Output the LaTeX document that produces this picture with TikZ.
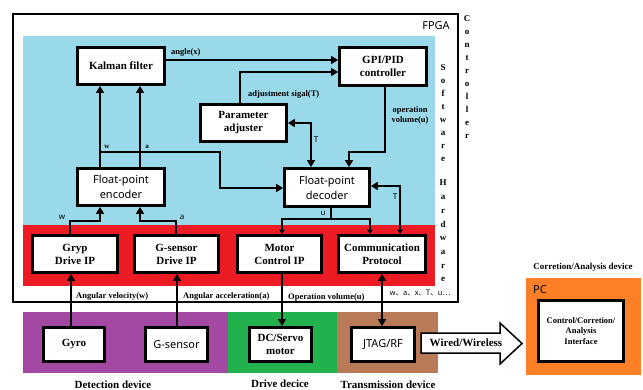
\documentclass[tikz,border=0pt]{standalone}
\usepackage{fontspec}
\setmainfont{Liberation Serif}
\newfontfamily\sansf{Noto Sans}
\newfontfamily\cjkf{Noto Sans CJK SC}
\usetikzlibrary{arrows.meta}
\definecolor{cblue}{HTML}{99D9EA}
\definecolor{cred}{HTML}{ED1C24}
\definecolor{cpurple}{HTML}{A349A4}
\definecolor{cgreen}{HTML}{22B14C}
\definecolor{cbrown}{HTML}{B97A57}
\definecolor{corange}{HTML}{FF7F27}
\begin{document}
\begin{tikzpicture}[x=1pt,y=-1pt,
  box/.style={draw,line width=2.8pt,fill=white,align=center,inner sep=0pt,font=\bfseries\fontsize{11}{13}\selectfont},
  sbox/.style={box,font=\sansf\fontsize{11}{15}\selectfont},
  conn/.style={line width=1.6pt,-{Triangle[length=7pt,width=8pt]}},
  bconn/.style={line width=1.6pt,{Triangle[length=7pt,width=8pt]}-{Triangle[length=7pt,width=8pt]}},
  sconn/.style={line width=1.6pt,{Triangle[length=4.5pt,width=5.5pt]}-{Triangle[length=4.5pt,width=5.5pt]}},
  lab/.style={font=\bfseries\fontsize{8.5}{10}\selectfont,inner sep=0pt,align=center},
  slab/.style={font=\sansf\fontsize{8}{9}\selectfont,inner sep=0pt},
  big/.style={font=\bfseries\fontsize{11}{13}\selectfont,inner sep=0pt},
  vert/.style={font=\bfseries\fontsize{9}{13}\selectfont,align=center,inner sep=0pt},
]
\useasboundingbox (0,0) rectangle (643,390);
\fill[white] (0,0) rectangle (643,390);
% regions
\fill[cblue] (23,36) rectangle (435,225);
\fill[cred] (23,225) rectangle (435,286);
\fill[cpurple] (23,312) rectangle (228,373);
\fill[cgreen] (228,312) rectangle (337,373);
\fill[cbrown] (337,312) rectangle (438,373);
\fill[corange] (526,278) rectangle (641,375);
\draw[line width=2.5pt] (13,14) rectangle (458,302);
% region texts
\node[font=\sansf\fontsize{11}{13}\selectfont,inner sep=0pt] (fpga) at (436,26) {FPGA};
\node[vert,font=\bfseries\fontsize{9}{13.1}\selectfont] (ctrl) at (467,77) {C\\o\\n\\t\\r\\o\\l\\l\\e\\r};
\node[vert] (sw) at (443,113) {S\\o\\f\\t\\w\\a\\r\\e};
\node[vert,font=\bfseries\fontsize{9}{13.7}\selectfont] (hw) at (443,231) {H\\a\\r\\d\\w\\a\\r\\e};
\node[font=\sansf\fontsize{11}{13}\selectfont,inner sep=0pt] (pc) at (540,290) {PC};
\node[lab,font=\bfseries\fontsize{9}{11}\selectfont] (cad) at (583,267) {Corretion/Analysis device};
\node[big] (detd) at (113,385) {Detection device};
\node[big] (drvd) at (280,384) {Drive decice};
\node[big] (trd) at (388,385) {Transmission device};
% nodes
\node[box,minimum width=87pt,minimum height=37pt] (kalman) at (121,66) {Kalman filter};
\node[box,minimum width=87pt,minimum height=38pt] (gpi) at (383,66.5) {GPI/PID\\controller};
\node[box,minimum width=86pt,minimum height=37pt] (param) at (243.5,123) {Parameter\\adjuster};
\node[sbox,minimum width=87pt,minimum height=37pt] (enc) at (121,187) {Float-point\\encoder};
\node[sbox,minimum width=85pt,minimum height=38pt] (dec) at (327,187.5) {Float-point\\decoder};
\node[box,minimum width=85pt,minimum height=37pt] (gryp) at (75,254) {Gryp\\Drive IP};
\node[box,minimum width=84pt,minimum height=37pt] (gsdrv) at (176.5,254) {G-sensor\\Drive IP};
\node[box,minimum width=84pt,minimum height=37pt] (motor) at (279.5,254) {Motor\\Control IP};
\node[box,minimum width=87pt,minimum height=37pt] (comm) at (382,254) {Communication\\Protocol};
\node[box,minimum width=61pt,minimum height=34pt] (gyro) at (74,344.5) {Gyro};
\node[sbox,minimum width=62pt,minimum height=34pt] (gsen) at (176.5,344.5) {G-sensor};
\node[box,minimum width=62pt,minimum height=34pt] (dc) at (280.5,344.5) {DC/Servo\\motor};
\node[sbox,minimum width=63pt,minimum height=34pt] (jtag) at (383,344.5) {JTAG/RF};
\node[box,minimum width=85pt,minimum height=61pt,font=\bfseries\fontsize{8.5}{10.3}\selectfont] (pcif) at (581,331) {Control/Corretion/\\Analysis\\Interface};
% connectors
\draw[conn] (kalman.east |- 0,60) -- (gpi.west |- 0,60);
\draw[conn] (param.north -| 240,0) |- (gpi.west |- 0,72);
\draw[conn] (gpi.south -| 385,0) |- (349,152) -- (dec.north -| 349,0);
\draw[bconn] (param.east) -| (dec.north -| 311,0);
\draw[conn] (enc.north -| 100,0) -- (kalman.south -| 100,0);
\draw[conn] (enc.north -| 140,0) -- (kalman.south -| 140,0);
\coordinate (wj) at (100,152);
\draw[conn] (wj) -| (220,188) -- (dec.west |- 0,188);
\draw[conn] (gryp.north -| 70,0) |- (100,221) -- (enc.south -| 100,0);
\draw[conn] (gsdrv.north -| 176,0) |- (140,221) -- (enc.south -| 140,0);
\draw[line width=1.6pt] (dec.south -| 331,0) -- (331,219);
\draw[sconn] (motor.north -| 282,0) -- (282,219) -- (370,219) -- (comm.north -| 370,0);
\draw[line width=1.6pt,{Triangle[length=4.5pt,width=5.5pt]}-{Triangle[length=7pt,width=8pt]}] (comm.north -| 400,0) |- (dec.east |- 0,186);
\draw[conn] (gyro.north -| 71,0) -- (gryp.south -| 71,0);
\draw[conn] (gsen.north -| 177,0) -- (gsdrv.south -| 177,0);
\draw[conn] (motor.south -| 282,0) -- (dc.north -| 282,0);
\draw[bconn] (comm.south -| 382,0) -- (jtag.north -| 382,0);
% big arrow
\draw[line width=1.5pt,fill=white] (421,333) -- (500,333) -- (500,323) -- (522,343.5) -- (500,364) -- (500,353) -- (421,353) -- cycle;
\node[big] (wl) at (466,343) {Wired/Wireless};
% labels
\node[lab,anchor=west] (lax) at (171,52) {angle(x)};
\node[lab,anchor=west] (lat) at (248,94) {adjustment sigal(T)};
\node[lab] (lou) at (410,115) {operation\\volume(u)};
\node[slab] (lt1) at (316,140) {T};
\node[lab,font=\bfseries\fontsize{7}{8}\selectfont] (lw1) at (107,147) {w};
\node[lab,font=\bfseries\fontsize{7}{8}\selectfont] (la1) at (147,147) {a};
\node[slab] (lw2) at (62,217) {w};
\node[slab] (la2) at (182,217) {a};
\node[slab] (lu) at (323,213) {u};
\node[slab] (lt2) at (395,197) {T};
\node[lab,anchor=west] (lav) at (76,296) {Angular velocity(w)};
\node[lab,anchor=west] (laa) at (183,296) {Angular acceleration(a)};
\node[lab,anchor=west] (lov) at (288,297) {Operation volume(u)};
\node[font=\cjkf\fontsize{7.5}{9}\selectfont,inner sep=0pt] (lvars) at (420,293) {w、a、x、T、u…};
\end{tikzpicture}
\end{document}
